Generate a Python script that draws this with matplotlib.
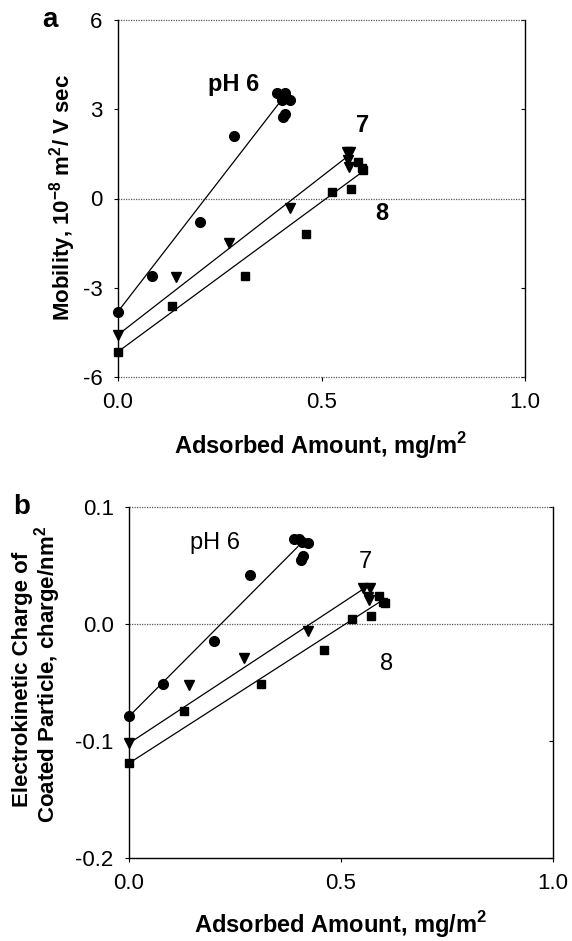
import matplotlib

matplotlib.use("Agg")
import matplotlib.pyplot as plt

plt.rcParams["font.family"] = ["Liberation Sans", "DejaVu Sans"]
plt.rcParams["mathtext.fontset"] = "custom"
plt.rcParams["mathtext.rm"] = "Liberation Sans"
plt.rcParams["mathtext.bf"] = "Liberation Sans:bold"

# panel a: electrophoretic mobility (10^-8 m2/V s) vs adsorbed amount (mg/m2)
a_ph6_x = [0.0, 0.083, 0.201, 0.286, 0.405, 0.41, 0.39, 0.41, 0.402, 0.423]
a_ph6_y = [-3.80, -2.61, -0.80, 2.11, 2.75, 2.85, 3.53, 3.53, 3.31, 3.31]
a_ph7_x = [0.0, 0.1425, 0.273, 0.423, 0.562, 0.570, 0.566, 0.568]
a_ph7_y = [-4.58, -2.64, -1.51, -0.33, 1.57, 1.57, 1.29, 1.06]
a_ph8_x = [0.0, 0.132, 0.312, 0.462, 0.527, 0.572, 0.590, 0.599, 0.603]
a_ph8_y = [-5.15, -3.63, -2.61, -1.20, 0.21, 0.33, 1.23, 1.01, 0.95]
# regression lines (start, end)
a_fit_x = [[0.0, 0.396], [0.0, 0.558], [0.0, 0.595]]
a_fit_y = [[-3.80, 3.21], [-4.58, 1.35], [-5.15, 0.84]]

# panel b: electrokinetic charge (charge/nm2) vs adsorbed amount
b_ph6_x = [0.0, 0.081, 0.201, 0.285, 0.405, 0.41, 0.388, 0.400, 0.407, 0.421]
b_ph6_y = [-0.079, -0.051, -0.0145, 0.042, 0.055, 0.058, 0.073, 0.073, 0.070, 0.069]
b_ph7_x = [0.0, 0.1415, 0.272, 0.423, 0.553, 0.568, 0.564, 0.567]
b_ph7_y = [-0.102, -0.052, -0.029, -0.0057, 0.031, 0.031, 0.023, 0.0205]
b_ph8_x = [0.0, 0.130, 0.311, 0.461, 0.527, 0.571, 0.590, 0.600, 0.604]
b_ph8_y = [-0.119, -0.0744, -0.051, -0.022, 0.004, 0.0068, 0.024, 0.019, 0.018]
b_fit_x = [[0.0, 0.398], [0.0, 0.553], [0.0, 0.592]]
b_fit_y = [[-0.079, 0.066], [-0.102, 0.030], [-0.119, 0.019]]

x_ticks = [0.0, 0.5, 1.0]
a_yticks = [-6, -3, 0, 3, 6]
b_yticks = [-0.2, -0.1, 0.0, 0.1]

W, H = 572, 941
fig = plt.figure(figsize=(W / 100, H / 100), dpi=100)


def px_axes(left, top, right, bottom):
    return fig.add_axes([left / W, 1 - bottom / H, (right - left) / W, (bottom - top) / H])


def px_text(x, y, s, **kw):
    fig.text(x / W, 1 - y / H, s, ha="center", va="center", **kw)


def style(ax, ylim, yticks, fmt, bottom_dotted):
    ax.set_xlim(0, 1.0)
    ax.set_ylim(*ylim)
    ax.set_xticks(x_ticks)
    ax.set_xticklabels([f"{t:.1f}" for t in x_ticks])
    ax.set_yticks(yticks)
    ax.set_yticklabels([fmt(t) for t in yticks])
    ax.tick_params(direction="out", length=3, width=0.8, labelsize=16)
    ax.tick_params(axis="x", pad=8)
    ax.tick_params(axis="y", pad=8)
    ax.spines["top"].set_visible(False)
    dot = dict(color="0.35", lw=0.9, ls=(0, (1, 1)), clip_on=False, zorder=1)
    ax.axhline(ylim[1], **dot)
    ax.axhline(0, **dot)
    if bottom_dotted:
        ax.spines["bottom"].set_visible(False)
        ax.axhline(ylim[0], **dot)
    for s in ("left", "right", "bottom"):
        ax.spines[s].set_linewidth(1.0)
    sec = ax.secondary_yaxis("right")
    sec.set_yticks(yticks)
    sec.tick_params(direction="in", length=3, labelright=False)
    sec.spines["right"].set_visible(False)


def draw(ax, xs, ys, fits_x, fits_y):
    markers = [("o", 7), ("v", 7), ("s", 6)]
    for x, y, (m, ms), fx, fy in zip(xs, ys, markers, fits_x, fits_y):
        ax.plot(fx, fy, color="black", lw=0.9, zorder=2)
        ax.plot(x, y, ls="none", marker=m, ms=ms, color="black", zorder=3, clip_on=False)


# ---- panel a
ax = px_axes(118, 20, 525, 377)
style(ax, (-6, 6), a_yticks, lambda t: f"{t:d}", bottom_dotted=True)
draw(ax, [a_ph6_x, a_ph7_x, a_ph8_x], [a_ph6_y, a_ph7_y, a_ph8_y], a_fit_x, a_fit_y)
ax.text(0.283, 3.83, "pH 6", fontsize=17, fontweight="bold", ha="center", va="center")
ax.text(0.60, 2.45, "7", fontsize=17, fontweight="bold", ha="center", va="center")
ax.text(0.647, -0.5, "8", fontsize=17, fontweight="bold", ha="center", va="center")
px_text(321, 446, "Adsorbed Amount, mg/m$^\\mathbf{2}$", fontsize=17, fontweight="bold")
px_text(63, 197, "Mobility, 10$^{\\mathbf{-8}}$ m$^\\mathbf{2}$/ V sec", fontsize=16,
        fontweight="bold", rotation=90)
px_text(50, 20, "a", fontsize=20, fontweight="bold")

# ---- panel b
ax = px_axes(129, 507, 553, 858)
style(ax, (-0.2, 0.1), b_yticks, lambda t: f"{t:.1f}", bottom_dotted=False)
draw(ax, [b_ph6_x, b_ph7_x, b_ph8_x], [b_ph6_y, b_ph7_y, b_ph8_y], b_fit_x, b_fit_y)
ax.text(0.203, 0.069, "pH 6", fontsize=17, ha="center", va="center")
ax.text(0.557, 0.053, "7", fontsize=17, ha="center", va="center")
ax.text(0.608, -0.034, "8", fontsize=17, ha="center", va="center")
px_text(341, 925, "Adsorbed Amount, mg/m$^\\mathbf{2}$", fontsize=17, fontweight="bold")
px_text(23, 679, "Electrokinetic Charge of", fontsize=16, fontweight="bold", rotation=90)
px_text(48, 674, "Coated Particle, charge/nm$^\\mathbf{2}$", fontsize=16, fontweight="bold",
        rotation=90)
px_text(22, 507, "b", fontsize=20, fontweight="bold")

fig.savefig("out.png", dpi=100)
